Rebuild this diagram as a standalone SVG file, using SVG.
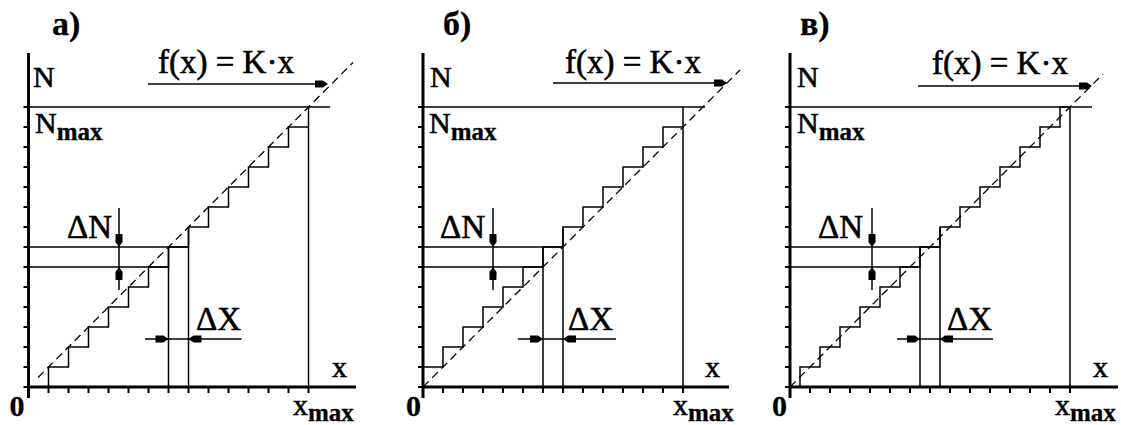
<svg xmlns="http://www.w3.org/2000/svg" xmlns:xlink="http://www.w3.org/1999/xlink" width="1121" height="425" viewBox="0 0 1121 425">
<style>
.ax{stroke:#000;stroke-width:3;fill:none}
.tk{stroke:#000;stroke-width:2;fill:none}
.ln{stroke:#000;stroke-width:1.5;fill:none}
.ds{stroke:#000;stroke-width:1.3;stroke-dasharray:8 5;fill:none}
.t{font-family:"Liberation Serif","Times New Roman",serif;font-size:30px;fill:#000;stroke:#000;stroke-width:0.6}
.big{font-size:33px}
.b{font-weight:bold;stroke-width:0.3}
.lab{font-size:34px}
.sub{font-size:25px;font-weight:bold;stroke-width:0.3}
</style>
<defs>
<path id="ah" d="M0,0 L-5,-3.6 L-13,-3.4 L-13,3.4 L-5,3.6 Z" fill="#000"/>
<path id="yt" class="tk" d="M-5,0H0M-5,-20H0M-5,-40H0M-5,-60H0M-5,-80H0M-5,-100H0M-5,-120H0M-5,-140H0M-5,-160H0M-5,-180H0M-5,-200H0M-5,-220H0M-5,-240H0M-5,-260H0M-5,-280H0"/>
</defs>
<rect width="1121" height="425" fill="#fff"/>

<g id="panel-a" transform="translate(28.5,387)">
<use xlink:href="#yt"/>
<path class="tk" d="M20,0V6M40,0V6M60,0V6M80,0V6M100,0V6M120,0V6M140,0V6M160,0V6M180,0V6M200,0V6M220,0V6M240,0V6M260,0V6M280,0V6"/>
<path class="ds" d="M9.5,-9.5L324.5,-324.5"/>
<path class="ln" d="M20,0V-20H40V-40H60V-60H80V-80H100V-100H120V-120H140V-140H160V-160H180V-180H200V-200H220V-220H240V-240H260V-260H280"/>
<path class="ln" d="M0,-280H301.5M280,-280V0M0,-120H140M0,-140H160M140,-140V0M160,-160V0"/>
<path class="ax" d="M0,-334V11M-1.5,0H327.5"/>
<g id="arrows-a">
<path class="ln" d="M119.5,-303H295"/>
<use xlink:href="#ah" transform="translate(299.5,-303)"/>
<path class="ln" d="M90.5,-179V-97"/>
<use xlink:href="#ah" transform="translate(90.5,-140) rotate(90)"/>
<use xlink:href="#ah" transform="translate(90.5,-120) rotate(-90)"/>
<path class="ln" d="M116.5,-48H213"/>
<use xlink:href="#ah" transform="translate(140,-48)"/>
<use xlink:href="#ah" transform="translate(160,-48) rotate(180)"/>
</g>
<text class="t b lab" x="23.5" y="-352">а)</text>
<text class="t" x="4.5" y="-300">N</text>
<text class="t" x="6.5" y="-254">N<tspan class="sub" dy="7">max</tspan></text>
<text class="t big" x="129.5" y="-314">f(x) = K·x</text>
<text class="t big" x="38.5" y="-149">ΔN</text>
<text class="t big" x="167.5" y="-57">ΔX</text>
<text class="t" x="303.5" y="-10">x</text>
<text class="t b" x="-19" y="29">0</text>
<text class="t" x="264.5" y="28">x<tspan class="sub" dy="6">max</tspan></text>
</g>

<g id="panel-b" transform="translate(423,387)">
<use xlink:href="#yt"/>
<path class="tk" d="M20,0V6M40,0V6M60,0V6M80,0V6M100,0V6M120,0V6M140,0V6M160,0V6M180,0V6M200,0V6M220,0V6M240,0V6M260,0V6"/>
<path class="ds" d="M0,0L317,-317"/>
<path class="ln" d="M0,-20H20V-40H40V-60H60V-80H80V-100H100V-120H120V-140H140V-160H160V-180H180V-200H200V-220H220V-240H240V-260H260"/>
<path class="ln" d="M0,-280H282M260,-280V0M0,-120H120M0,-140H140M120,-140V0M140,-160V0"/>
<path class="ax" d="M0,-334V11M-1.5,0H306"/>
<g id="arrows-b">
<path class="ln" d="M130,-304H300"/>
<use xlink:href="#ah" transform="translate(304,-304)"/>
<path class="ln" d="M70,-179V-97"/>
<use xlink:href="#ah" transform="translate(70,-140) rotate(90)"/>
<use xlink:href="#ah" transform="translate(70,-120) rotate(-90)"/>
<path class="ln" d="M95,-48H193"/>
<use xlink:href="#ah" transform="translate(120,-48)"/>
<use xlink:href="#ah" transform="translate(140,-48) rotate(180)"/>
</g>
<text class="t b lab" x="20" y="-352">б)</text>
<text class="t" x="7" y="-300">N</text>
<text class="t" x="6" y="-254">N<tspan class="sub" dy="7">max</tspan></text>
<text class="t big" x="142" y="-314">f(x) = K·x</text>
<text class="t big" x="17" y="-149">ΔN</text>
<text class="t big" x="145" y="-57">ΔX</text>
<text class="t" x="282" y="-10">x</text>
<text class="t b" x="-17" y="29">0</text>
<text class="t" x="250" y="28">x<tspan class="sub" dy="6">max</tspan></text>
</g>

<g id="panel-v" transform="translate(790,387)">
<use xlink:href="#yt"/>
<path class="tk" d="M20,0V6M40,0V6M60,0V6M80,0V6M100,0V6M120,0V6M140,0V6M160,0V6M180,0V6M200,0V6M220,0V6M240,0V6M260,0V6M280,0V6"/>
<path class="ds" d="M0,0L313,-313"/>
<path class="ln" d="M10,0V-20H30V-40H50V-60H70V-80H90V-100H110V-120H130V-140H150V-160H170V-180H190V-200H210V-220H230V-240H250V-260H270V-280H280"/>
<path class="ln" d="M0,-280H302M280,-280V0M0,-120H130M0,-140H150M130,-140V0M150,-160V0"/>
<path class="ax" d="M0,-334V11M-1.5,0H328"/>
<g id="arrows-v">
<path class="ln" d="M128,-301H298"/>
<use xlink:href="#ah" transform="translate(302,-301)"/>
<path class="ln" d="M82,-179V-97"/>
<use xlink:href="#ah" transform="translate(82,-140) rotate(90)"/>
<use xlink:href="#ah" transform="translate(82,-120) rotate(-90)"/>
<path class="ln" d="M107,-48H203"/>
<use xlink:href="#ah" transform="translate(130,-48)"/>
<use xlink:href="#ah" transform="translate(150,-48) rotate(180)"/>
</g>
<text class="t b lab" x="10" y="-352">в)</text>
<text class="t" x="7" y="-300">N</text>
<text class="t" x="7" y="-254">N<tspan class="sub" dy="7">max</tspan></text>
<text class="t big" x="142" y="-313">f(x) = K·x</text>
<text class="t big" x="28" y="-149">ΔN</text>
<text class="t big" x="157" y="-57">ΔX</text>
<text class="t" x="303" y="-10">x</text>
<text class="t b" x="-18" y="29">0</text>
<text class="t" x="265" y="28">x<tspan class="sub" dy="6">max</tspan></text>
</g>
</svg>
